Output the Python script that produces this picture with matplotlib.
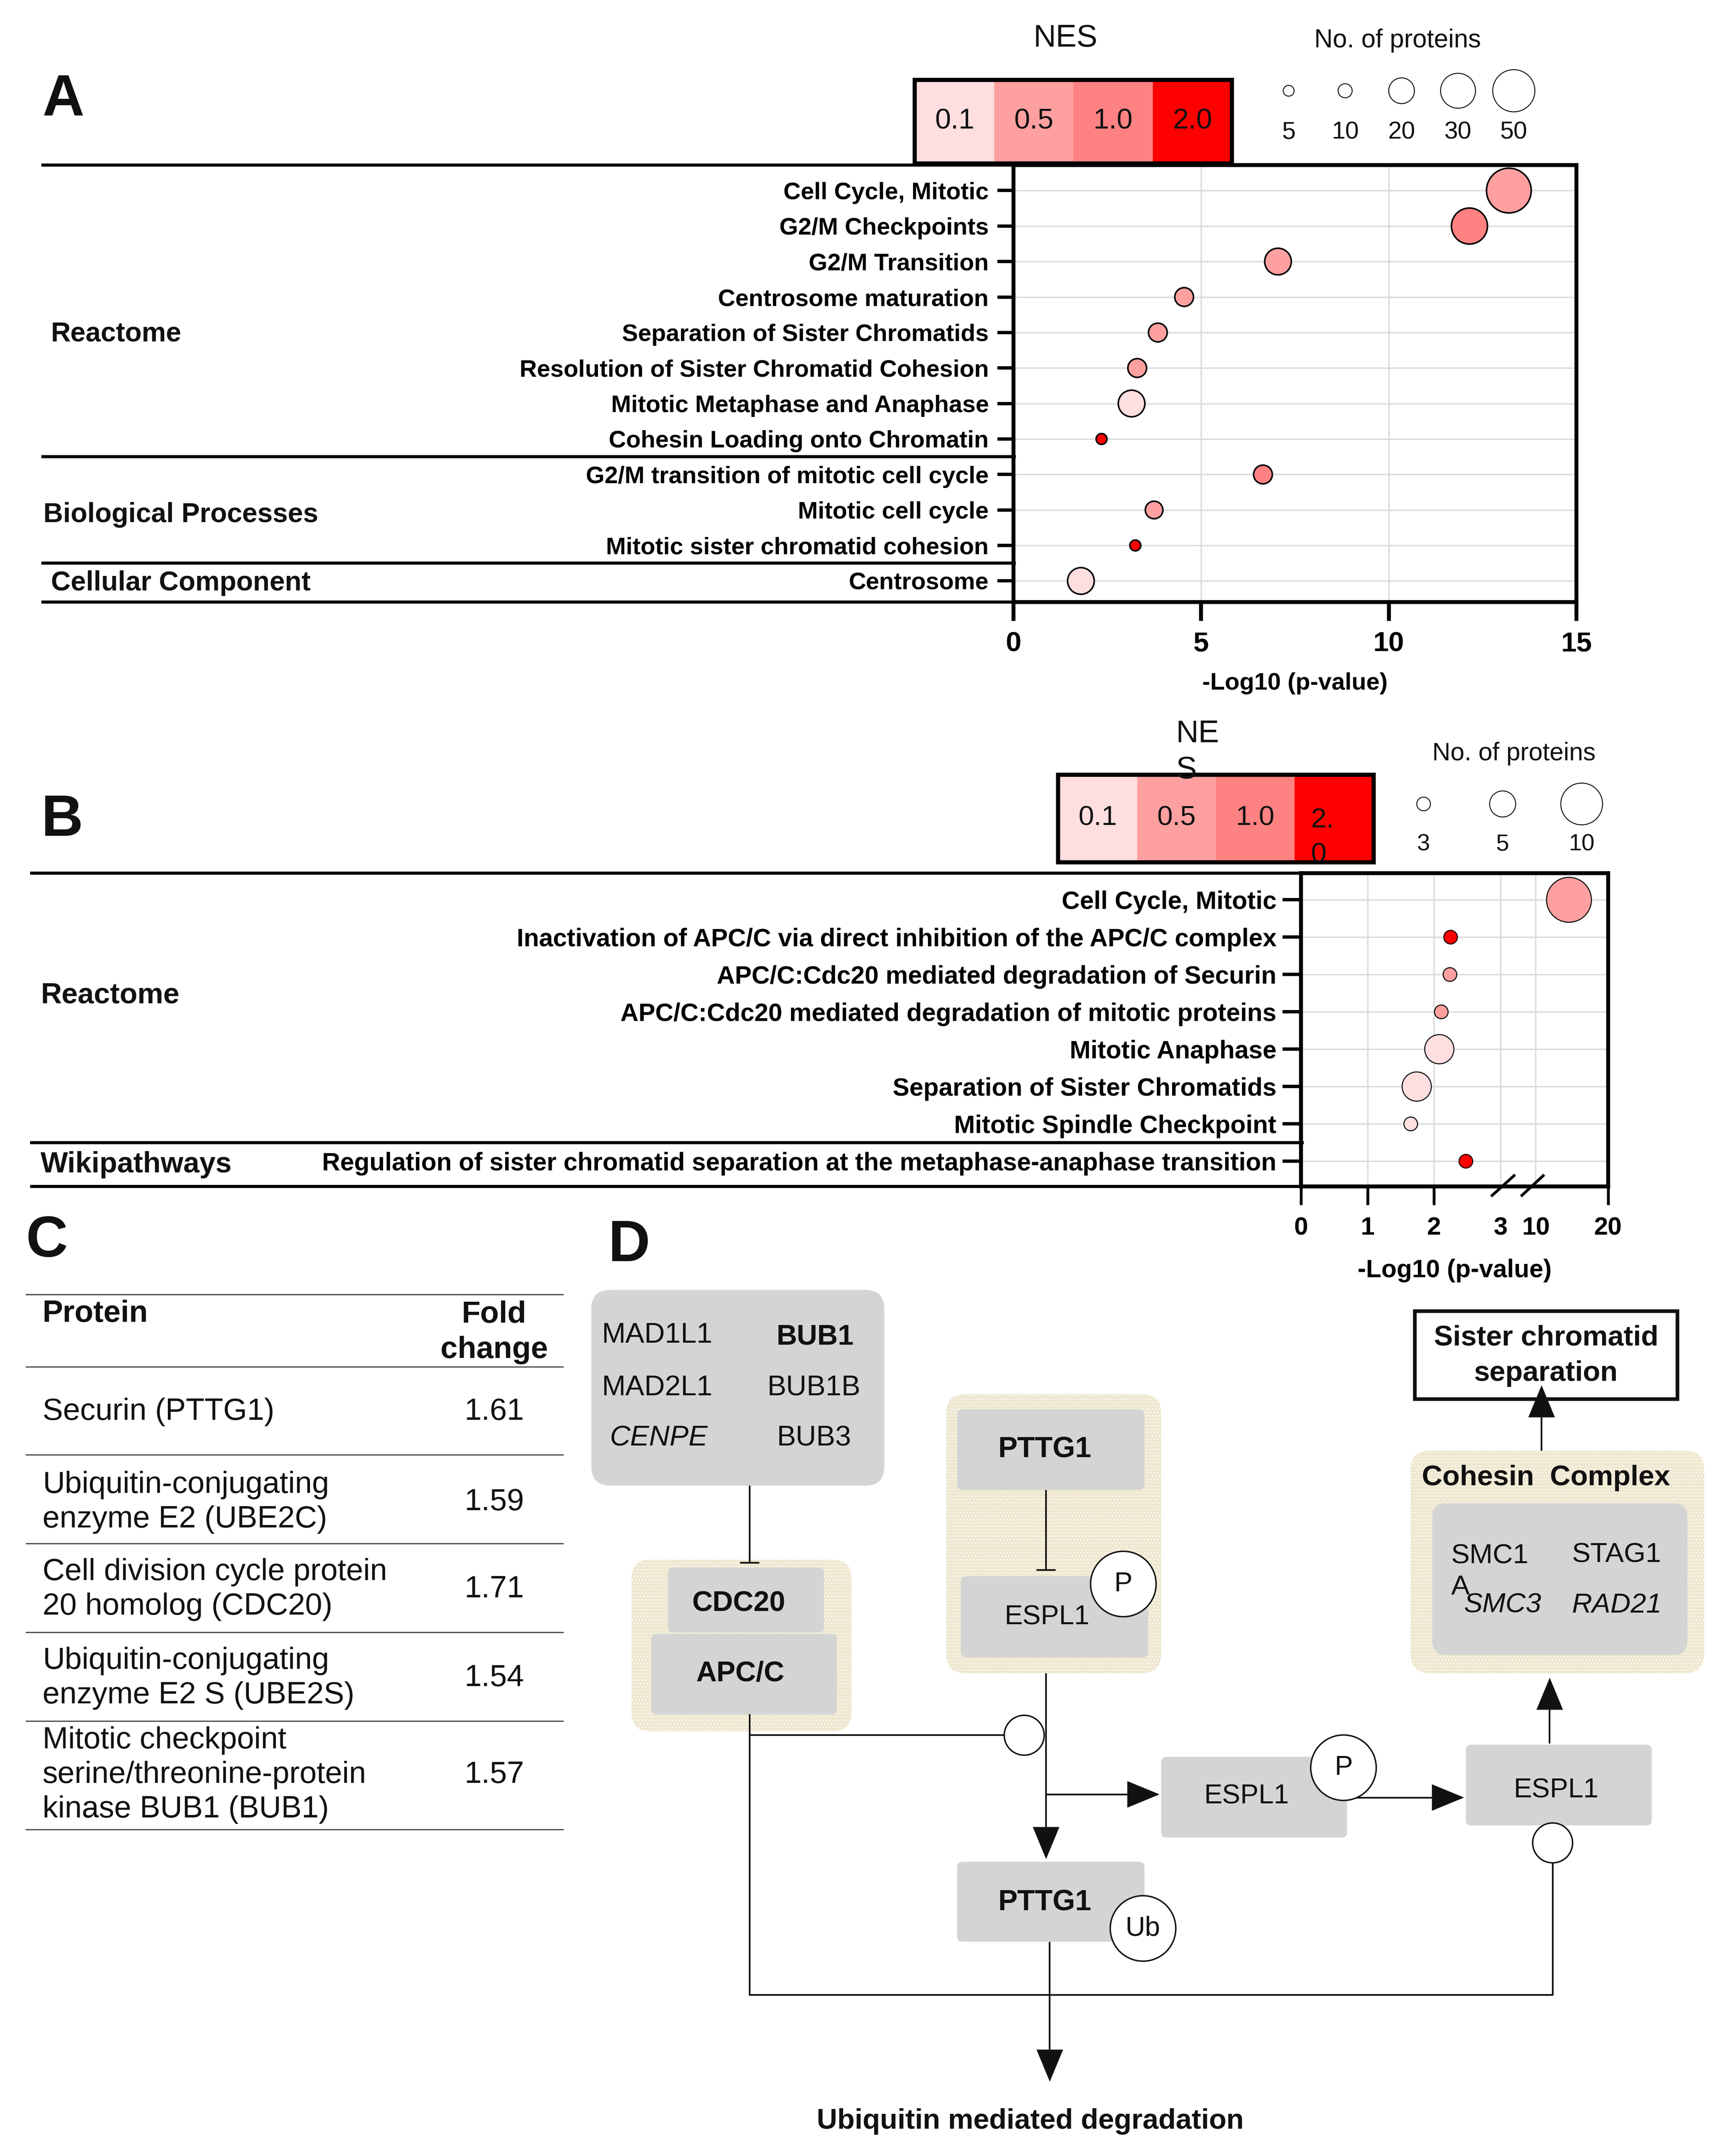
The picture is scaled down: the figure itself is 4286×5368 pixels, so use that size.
import numpy as np
import matplotlib
matplotlib.use("Agg")
import matplotlib.pyplot as plt
from matplotlib import transforms
from matplotlib.patches import Rectangle, FancyBboxPatch, Circle, Polygon

plt.rcParams['font.family'] = ['Liberation Sans', 'DejaVu Sans']
plt.rcParams['hatch.linewidth'] = 2.0

# ---------------- data: panel A ----------------
a_terms = ["Cell Cycle, Mitotic", "G2/M Checkpoints", "G2/M Transition",
           "Centrosome maturation", "Separation of Sister Chromatids",
           "Resolution of Sister Chromatid Cohesion", "Mitotic Metaphase and Anaphase",
           "Cohesin Loading onto Chromatin", "G2/M transition of mitotic cell cycle",
           "Mitotic cell cycle", "Mitotic sister chromatid cohesion", "Centrosome"]
a_logp = [13.2, 12.15, 7.05, 4.55, 3.85, 3.3, 3.15, 2.35, 6.65, 3.75, 3.25, 1.8]
a_count = [57, 33, 21, 14, 14, 14, 21, 5, 14, 13, 5, 21]
a_nes = [0.5, 1.0, 0.5, 0.5, 0.5, 0.5, 0.1, 2.0, 1.0, 0.5, 2.0, 0.1]
a_groups = ["Reactome", "Biological Processes", "Cellular Component"]
a_group_bounds = [7.5, 10.5]
a_xticks = [0, 5, 10, 15]
a_size_legend = [5, 10, 20, 30, 50]

# ---------------- data: panel B ----------------
b_terms = ["Cell Cycle, Mitotic",
           "Inactivation of APC/C via direct inhibition of the APC/C complex",
           "APC/C:Cdc20 mediated degradation of Securin",
           "APC/C:Cdc20 mediated degradation of mitotic proteins",
           "Mitotic Anaphase", "Separation of Sister Chromatids",
           "Mitotic Spindle Checkpoint",
           "Regulation of sister chromatid separation at the metaphase-anaphase transition"]
b_logp = [14.6, 2.25, 2.24, 2.11, 2.08, 1.74, 1.65, 2.48]
b_count = [11, 3, 3, 3, 6, 6, 3, 3]
b_nes = [0.5, 2.0, 0.5, 0.5, 0.1, 0.1, 0.1, 2.0]
b_groups = ["Reactome", "Wikipathways"]
b_group_bounds = [6.5]
b_xticks_major = [0, 1, 2, 20]
b_xticks_minor = [3, 10]
b_size_legend = [3, 5, 10]

# ---------------- NES legend ----------------
nes_levels = [0.1, 0.5, 1.0, 2.0]
nes_labels_a = ["0.1", "0.5", "1.0", "2.0"]
nes_labels_b = ["0.1", "0.5", "1.0", "2.\n0"]
nes_colors = ['#FFDEE0', '#FFA0A0', '#FF8282', '#FF0000']

# ---------------- data: panel C ----------------
c_header = ["Protein", "Fold\nchange"]
c_proteins = ["Securin (PTTG1)",
              "Ubiquitin-conjugating\nenzyme E2 (UBE2C)",
              "Cell division cycle protein\n20 homolog (CDC20)",
              "Ubiquitin-conjugating\nenzyme E2 S (UBE2S)",
              "Mitotic checkpoint\nserine/threonine-protein\nkinase BUB1 (BUB1)"]
c_fold = [1.61, 1.59, 1.71, 1.54, 1.57]

# ---------------- figure ----------------
DPI = 100
W, H = 1250.0, 1568.0           # layout units
PX = 72.0 / DPI                  # points per pixel
fig = plt.figure(figsize=(4286 / DPI, 5368 / DPI), dpi=DPI)


def fr(x0, y0, x1, y1):
    return [x0 / W, 1 - y1 / H, (x1 - x0) / W, (y1 - y0) / H]


ov = fig.add_axes([0, 0, 1, 1], zorder=0)
ov.set_xlim(0, W)
ov.set_ylim(H, 0)
ov.axis('off')

INK = '#111111'


def T(x, y, s, size, weight='normal', ha='center', va='center', style='normal', z=6, **kw):
    ov.text(x, y, s, fontsize=size, fontweight=weight, ha=ha, va=va,
            fontstyle=style, color=kw.pop('color', INK), zorder=z, **kw)


color_of = dict(zip(nes_levels, nes_colors))


def bubble_s(n, ref_n, ref_d):
    n = np.asarray(n, float)
    ref_n = np.asarray(ref_n, float)
    ref_d = np.asarray(ref_d, float)
    d = np.interp(n, ref_n, ref_d)
    slope = (ref_d[-1] - ref_d[-2]) / (ref_n[-1] - ref_n[-2])
    d = np.where(n > ref_n[-1], ref_d[-1] + (n - ref_n[-1]) * slope, d)
    return (d * PX) ** 2


a_leg_diam = [27, 35, 64, 87, 105]   # px
b_leg_diam = [34, 65, 104]           # px

GRID = '#DADADA'

# =============== Panel A ===============
T(46, 73, "A", 104, 'bold')
axA = fig.add_axes(fr(736, 120, 1145, 438), zorder=2)
ya = np.arange(len(a_terms))
axA.scatter(a_logp, ya, s=bubble_s(a_count, a_size_legend, a_leg_diam),
            c=[color_of[v] for v in a_nes], edgecolors='black', linewidths=2.8,
            zorder=3, clip_on=False)
axA.set_xticks(a_xticks, labels=[str(t) for t in a_xticks], fontsize=50, fontweight='bold')
axA.set_yticks(ya, labels=a_terms, fontsize=43, fontweight='bold')
axA.grid(True, color=GRID, lw=2.5)
axA.set_axisbelow(True)
axA.tick_params(axis='x', length=34, width=7, pad=18)
axA.tick_params(axis='y', length=29, width=6, pad=15)
for sp in axA.spines.values():
    sp.set_linewidth(7)
axA.set_xlabel("-Log10 (p-value)", fontsize=43, fontweight='bold')
axA.xaxis.set_label_coords(0.5, (438 - 497) / 318.0)
axA.xaxis.label.set_va('center')
blendA = transforms.blended_transform_factory(fig.transFigure, axA.transData)
for yb in a_group_bounds:
    axA.plot([30 / W, 738 / W], [yb, yb], transform=blendA, color='black', lw=5.5,
             clip_on=False, solid_capstyle='butt')
blendA2 = transforms.blended_transform_factory(fig.transFigure, axA.transAxes)
for yb in (0, 1):
    axA.plot([30 / W, 736 / W], [yb, yb], transform=blendA2, color='black', lw=5.5,
             clip_on=False, solid_capstyle='butt')
axA.set_xlim(0, 15)
axA.set_ylim(len(a_terms) - 1 + 0.6, -0.72)

for g, (gx, gy) in zip(a_groups, [(37, 243), (31.6, 374.5), (37, 424)]):
    T(gx, gy, g, 49, 'bold', ha='left')

# NES legend A
T(774, 28, "NES", 56)
cbx0, cbw, cby0, cby1 = 664.5, 57.6, 58, 119
for i, (lab, col) in enumerate(zip(nes_labels_a, nes_colors)):
    ov.add_patch(Rectangle((cbx0 + i * cbw, cby0), cbw, cby1 - cby0, fc=col, ec='none', zorder=2))
    T(cbx0 + (i + 0.5) * cbw, 88.5, lab, 51)
ov.add_patch(Rectangle((cbx0, cby0), 4 * cbw, cby1 - cby0, fc='none', ec='black', lw=7.5, zorder=3))

T(1015, 29.5, "No. of proteins", 46)
legx_a = [936, 977, 1018, 1059, 1099.5]
ov.scatter(legx_a, [66] * len(legx_a), s=bubble_s(a_size_legend, a_size_legend, a_leg_diam),
           facecolors='white', edgecolors='black', linewidths=1.6, zorder=3)
for x, n in zip(legx_a, a_size_legend):
    T(x, 96.5, str(n), 44)

# =============== Panel B ===============
T(45, 597, "B", 104, 'bold')
axB = fig.add_axes(fr(945, 635, 1168, 863), zorder=2)


def b_fwd(x):
    x = np.asarray(x, float)
    return np.where(x <= 3, x, np.where(x >= 10, 3.53 + (x - 10) * 0.109,
                                        3 + (x - 3) * (0.53 / 7)))


def b_inv(u):
    u = np.asarray(u, float)
    return np.where(u <= 3, u, np.where(u >= 3.53, 10 + (u - 3.53) / 0.109,
                                        3 + (u - 3) * (7 / 0.53)))


axB.set_xscale('function', functions=(b_fwd, b_inv))
yb_ = np.arange(len(b_terms))
axB.scatter(b_logp, yb_, s=bubble_s(b_count, b_size_legend, b_leg_diam),
            c=[color_of[v] for v in b_nes], edgecolors='black', linewidths=1.8,
            zorder=3, clip_on=False)
axB.set_xticks(b_xticks_major, labels=[str(t) for t in b_xticks_major], fontsize=45, fontweight='bold')
axB.set_xticks(b_xticks_minor, labels=[str(t) for t in b_xticks_minor], minor=True,
               fontsize=45, fontweight='bold')
axB.set_yticks(yb_, labels=b_terms, fontsize=45, fontweight='bold')
axB.grid(True, which='both', color=GRID, lw=2.5)
axB.set_axisbelow(True)
axB.tick_params(axis='x', which='major', length=33, width=5, pad=20)
axB.tick_params(axis='x', which='minor', length=0, width=0, pad=53)
axB.tick_params(axis='y', length=33, width=6, pad=11)
for sp in axB.spines.values():
    sp.set_linewidth(7)
axB.set_xlabel("-Log10 (p-value)", fontsize=45, fontweight='bold')
axB.xaxis.set_label_coords(0.5, (863 - 924) / 228.0)
axB.xaxis.label.set_va('center')
# axis break marks
for (fx0, fx1) in [(0.619, 0.697), (0.716, 0.792)]:
    axB.plot([fx0, fx1], [-0.031, 0.038], transform=axB.transAxes, color='black',
             lw=5, clip_on=False, solid_capstyle='butt', zorder=5)
blendB = transforms.blended_transform_factory(fig.transFigure, axB.transData)
for yb in b_group_bounds:
    axB.plot([22 / W, 947 / W], [yb, yb], transform=blendB, color='black', lw=5.5,
             clip_on=False, solid_capstyle='butt')
blendB2 = transforms.blended_transform_factory(fig.transFigure, axB.transAxes)
for yb in (0, 1):
    axB.plot([22 / W, 945 / W], [yb, yb], transform=blendB2, color='black', lw=5.5,
             clip_on=False, solid_capstyle='butt')
axB.set_xlim(0, 20)
axB.set_ylim(len(b_terms) - 1 + 0.68, -0.715)

for g, (gx, gy) in zip(b_groups, [(29.5, 724), (29.5, 847)]):
    T(gx, gy, g, 52, 'bold', ha='left')

# NES legend B (wrapped as in the original)
T(854, 547, "NE\nS", 56, ha='left', linespacing=1.3, z=7)
cbx0, cbw, cby0, cby1 = 768.5, 57.3, 563.5, 627
for i, (lab, col) in enumerate(zip(nes_labels_b, nes_colors)):
    ov.add_patch(Rectangle((cbx0 + i * cbw, cby0), cbw, cby1 - cby0, fc=col, ec='none', zorder=2))
    if "\n" in lab:
        T(952, 609, lab, 50, ha='left', linespacing=1.45, z=7)
    else:
        T(cbx0 + (i + 0.5) * cbw, 595, lab, 50)
ov.add_patch(Rectangle((cbx0, cby0), 4 * cbw, cby1 - cby0, fc='none', ec='black', lw=7.5, zorder=3))

T(1099.6, 548, "No. of proteins", 45)
legx_b = [1034, 1091.4, 1148.8]
ov.scatter(legx_b, [584.7] * len(legx_b), s=bubble_s(b_size_legend, b_size_legend, b_leg_diam),
           facecolors='white', edgecolors='black', linewidths=1.6, zorder=3)
for x, n in zip(legx_b, b_size_legend):
    T(x, 614, str(n), 42)

# =============== Panel C ===============
T(34, 903, "C", 104, 'bold')
c_lines_y = [941.5, 994, 1058, 1122.6, 1187, 1251.6, 1330.6]
for y in c_lines_y:
    ov.plot([19, 409], [y, y], color='#4a4a4a', lw=2.2, zorder=3)
T(31, 955.5, c_header[0], 55, 'bold', ha='left')
T(359, 969, c_header[1], 55, 'bold', linespacing=1.3)
c_row_y = [1027, 1092.5, 1156, 1220.5, 1291]
for y, prot, fc in zip(c_row_y, c_proteins, c_fold):
    T(31, y, prot, 55, ha='left', linespacing=1.27)
    T(359, y, f"{fc:.2f}", 55)

# =============== Panel D ===============
T(457, 906.3, "D", 104, 'bold')
GRAY = '#D4D4D4'
BEIGE = '#EEE7CF'
LW = 3.0


def box(x0, y0, x1, y1, fc, r=4, z=2):
    ov.add_patch(FancyBboxPatch((x0, y0), x1 - x0, y1 - y0,
                                boxstyle=f"round,pad=0,rounding_size={r}",
                                fc=fc, ec='none', zorder=z))


def beige(x0, y0, x1, y1, r=14):
    box(x0, y0, x1, y1, BEIGE, r=r, z=1)
    ov.add_patch(FancyBboxPatch((x0, y0), x1 - x0, y1 - y0,
                                boxstyle=f"round,pad=0,rounding_size={r}",
                                fc='none', ec='#FAF7EE', lw=0, hatch='..', zorder=1.1))


def seg(xs, ys):
    ov.plot(xs, ys, color=INK, lw=LW, zorder=3, solid_capstyle='butt')


def arrow(x0, y0, x1, y1, hl=23, hw=19):
    d = np.array([x1 - x0, y1 - y0], float)
    L = np.hypot(*d)
    u = d / L
    n = np.array([-u[1], u[0]])
    base = np.array([x1, y1]) - u * hl
    seg([x0, base[0]], [y0, base[1]])
    tri = [(x1, y1), tuple(base + n * hw / 2), tuple(base - n * hw / 2)]
    ov.add_patch(Polygon(tri, closed=True, fc=INK, ec=INK, lw=0.5, zorder=3))


def inhib(x, y0, y1, half=7):
    seg([x, x], [y0, y1])
    seg([x - half, x + half], [y1, y1])


def circ(x, y, r, txt=None, size=49):
    ov.add_patch(Circle((x, y), r, fc='white', ec=INK, lw=2.6, zorder=4))
    if txt:
        T(x, y, txt, size)


# checkpoint complex
box(429.5, 938.1, 642.3, 1080.5, GRAY, r=14)
T(477.2, 971.1, "MAD1L1", 51)
T(592, 972.5, "BUB1", 51, 'bold')
T(477.2, 1009.5, "MAD2L1", 51)
T(591, 1009.5, "BUB1B", 51)
T(478.2, 1046.1, "CENPE", 51, style='italic')
T(591, 1046.1, "BUB3", 51)
inhib(544.4, 1080.5, 1136.5)

# CDC20 / APC/C
beige(458.6, 1134.3, 618.5, 1259.2)
box(485.1, 1140, 598.4, 1187.3, GRAY)
box(473, 1188.2, 607.9, 1246.8, GRAY)
T(536.4, 1166.5, "CDC20", 51, 'bold')
T(537.5, 1217.3, "APC/C", 51, 'bold')

# PTTG1 / ESPL1
beige(687.3, 1013.9, 843.4, 1216.8)
box(695.2, 1025, 831.3, 1083.6, GRAY)
T(758.8, 1054.1, "PTTG1", 52, 'bold')
inhib(759.8, 1083.6, 1141.8)
box(697.9, 1146.3, 833.9, 1205.4, GRAY)
T(760.3, 1176.2, "ESPL1", 49)
circ(815.9, 1152, 23.8, "P")

# central flow
arrow(759.8, 1216.8, 759.8, 1351.8)
arrow(759.8, 1305, 841.9, 1305)
seg([544.4, 544.4, 1127.7, 1127.7], [1246.8, 1451, 1451, 1354.8])
seg([544.4, 729.4], [1262, 1262])
circ(743.9, 1262, 14.5)

box(843.4, 1277.7, 978.4, 1336.4, GRAY)
T(905.4, 1306.4, "ESPL1", 49)
circ(975.8, 1285.6, 23.8, "P")
arrow(985.3, 1307.3, 1063.1, 1307.3)

box(1064.7, 1268.9, 1199.7, 1327.6, GRAY)
T(1130.3, 1302, "ESPL1", 49)
circ(1127.7, 1340.3, 14.5)
arrow(1125.6, 1268, 1125.6, 1220.4)

# cohesin complex
beige(1024.5, 1055, 1237.8, 1216.8)
T(1122.9, 1074.8, "Cohesin  Complex", 51, 'bold')
box(1040.3, 1093.3, 1225.6, 1203.6, GRAY, r=10)
T(1054, 1143, "SMC1\nA", 50, ha='left', linespacing=1.27)
T(1091.2, 1167.4, "SMC3", 50, style='italic')
T(1174.3, 1130.8, "STAG1", 50)
T(1174.3, 1167.4, "RAD21", 50, style='italic')
arrow(1119.7, 1055, 1119.7, 1007.7)

# sister chromatid separation
ov.add_patch(Rectangle((1027.6, 953.5), 1218.2 - 1027.6, 1017.5 - 953.5,
                       fc='white', ec=INK, lw=6.5, zorder=2))
T(1122.9, 986, "Sister chromatid\nseparation", 51, 'bold', linespacing=1.45)

# PTTG1 ubiquitinated
box(695.2, 1354, 831.3, 1412.2, GRAY)
T(758.8, 1383.6, "PTTG1", 52, 'bold')
circ(830.2, 1402.5, 23.8, "Ub")
arrow(762.5, 1412.2, 762.5, 1513.7)
T(748.2, 1543, "Ubiquitin mediated degradation", 51, 'bold')

fig.savefig("out.png", dpi=DPI)
